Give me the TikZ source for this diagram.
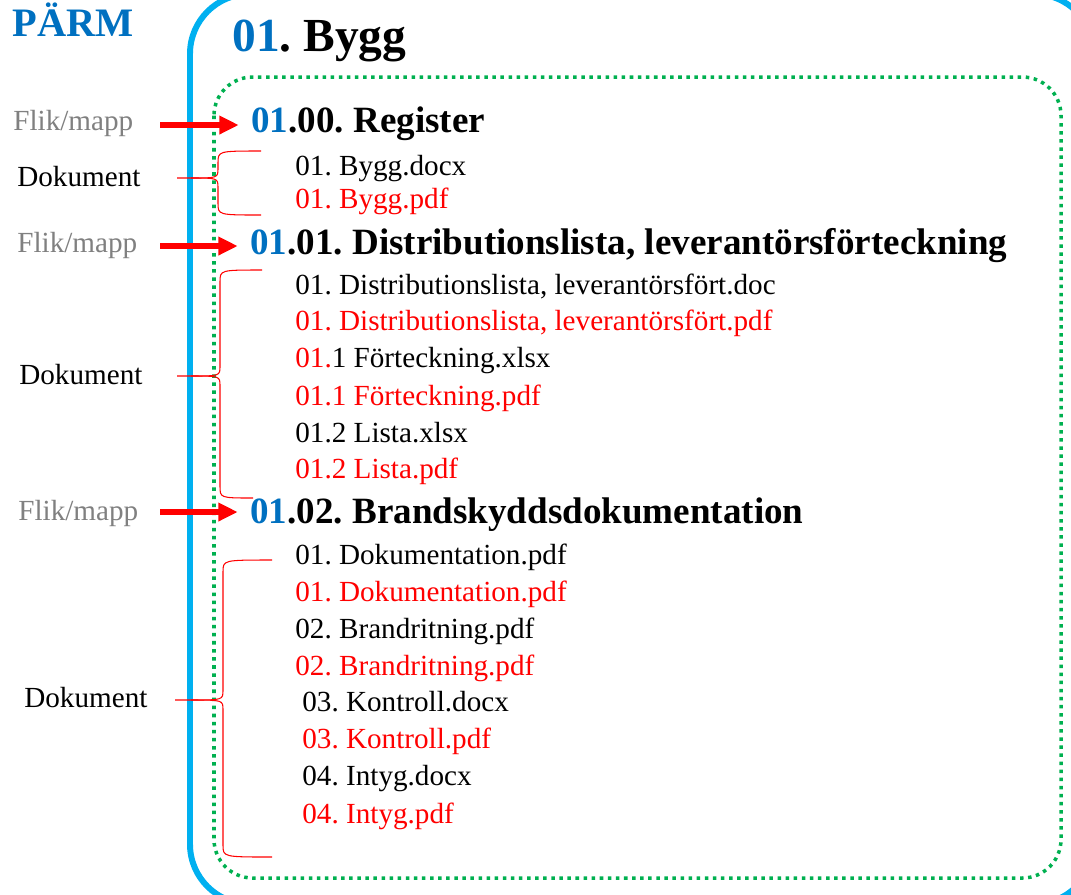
\documentclass[tikz,border=0pt]{standalone}
\usepackage{fontspec}
\setmainfont{Liberation Serif}
\usetikzlibrary{arrows.meta}
\frenchspacing

\definecolor{parmblue}{HTML}{0070C0}
\definecolor{boxblue}{HTML}{00B0F0}
\definecolor{dotgreen}{HTML}{00B050}
\definecolor{flikgray}{HTML}{808080}

\tikzset{
  txt/.style={anchor=west, inner sep=0pt, text depth=0pt},
  parm/.style={txt, text=parmblue, text height=15.5pt, font=\bfseries\fontsize{23}{26}\selectfont},
  title/.style={txt, text height=18.2pt, font=\bfseries\fontsize{27}{30}\selectfont},
  heading/.style={txt, text height=14.2pt, font=\bfseries\fontsize{21.1}{24}\selectfont},
  flik/.style={txt, text=flikgray, text height=11.2pt, font=\fontsize{16.6}{19}\selectfont},
  dok/.style={txt, text height=11.2pt, font=\fontsize{16.6}{19}\selectfont},
  file/.style={txt, text height=11.2pt, font=\fontsize{16.6}{19}\selectfont},
  flikarrow/.style={red, line width=3.4pt, shorten >=7pt, -{Triangle[length=11pt,width=10pt]}},
  brace/.style={red, line width=0.6pt},
}

% tick x, tip x, tip y, spine x, top y, top end x, bottom y, bottom end x
\newcommand{\dokbrace}[8]{%
  \draw [brace] (#1,#3) -- (#2,#3)
     .. controls (#4,#3) .. (#4,#3-10) -- (#4,#5+12)
     .. controls (#4,#5) .. (#6,#5);
  \draw [brace] (#2,#3)
     .. controls (#4,#3) .. (#4,#3+10) -- (#4,#7-12)
     .. controls (#4,#7) .. (#8,#7);
}

\begin{document}
\begin{tikzpicture}[x=0.02cm, y=-0.02cm]
    \useasboundingbox (0,0) rectangle (1071,894);
    \clip (0,0) rectangle (1071,894);
%   \draw [very thin,gray,step=50] (0,0) grid (1071,894);

    \draw [boxblue, line width=3.4pt, rounded corners=34pt] (190,-6) rectangle (1094,904);
    \draw [dotgreen, line width=2pt, dash pattern=on 2pt off 2.6pt, rounded corners=22pt] (214,77) rectangle (1061,878);

    \node [parm] (parm) at (12,23) {PÄRM};
    \node [title] (bygg) at (232,36) {\textcolor{parmblue}{01}. Bygg};

    \node [heading] (h00) at (251,120) {\textcolor{parmblue}{01}.00. Register};
    \node [heading] (h01) at (250,242) {\textcolor{parmblue}{01}.01. Distributionslista, leverantörsförteckning};
    \node [heading] (h02) at (250,511) {\textcolor{parmblue}{01}.02. Brandskyddsdokumentation};

    \node [flik] (flik1) at (13,121) {Flik/mapp};
    \node [flik] (flik2) at (17,243) {Flik/mapp};
    \node [flik] (flik3) at (18,511) {Flik/mapp};

    \node [dok] (dok1) at (17,177) {Dokument};
    \node [dok] (dok2) at (19,375) {Dokument};
    \node [dok] (dok3) at (24,698) {Dokument};

    \foreach \f/\h/\y in {1/h00/125, 2/h01/246, 3/h02/512} {
        \coordinate (start\f) at (160,\y);
        \draw [flikarrow] (start\f) -- (start\f -| \h.west);
    }

    \foreach \x/\y/\c/\t [count=\i] in {
        295/166/black/{01. Bygg.docx},
        295/199/red/{01. Bygg.pdf},
        295/285/black/{01. Distributionslista, leverantörsfört.doc},
        295/321/red/{01. Distributionslista, leverantörsfört.pdf},
        295/358/black/{\textcolor{red}{01.}1 Förteckning.xlsx},
        295/396/red/{01.1 Förteckning.pdf},
        295/433/black/{01.2 Lista.xlsx},
        295/469/red/{01.2 Lista.pdf},
        295/555/black/{01. Dokumentation.pdf},
        295/592/red/{01. Dokumentation.pdf},
        295/629/black/{02. Brandritning.pdf},
        295/666/red/{02. Brandritning.pdf},
        302/702/black/{03. Kontroll.docx},
        302/739/red/{03. Kontroll.pdf},
        302/776/black/{04. Intyg.docx},
        302/814/red/{04. Intyg.pdf}} {
        \node [file, text=\c] (file\i) at (\x,\y) {\t};
    }

    \dokbrace{177}{191}{178}{218}{151}{261}{215}{261}
    \dokbrace{177}{191}{376}{220}{270}{262}{498}{253}
    \dokbrace{175}{191}{700}{223}{560}{272}{857}{272}

\end{tikzpicture}
\end{document}
